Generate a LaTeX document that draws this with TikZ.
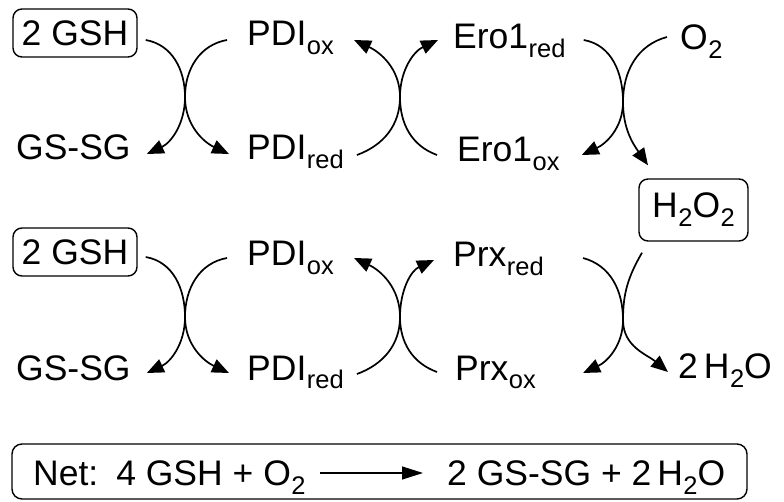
\documentclass[tikz,border=0pt]{standalone}
\usepackage{fontspec}
\setmainfont{Liberation Sans}
\usetikzlibrary{arrows.meta}
% lowered, smaller subscript for chemical names
\newcommand\lo[1]{\kern0.5pt\raisebox{-9pt}{\fontsize{25.5}{26}\selectfont #1}}
\begin{document}
\begin{tikzpicture}[x=1pt,y=1pt,
  chem/.style={inner sep=0pt, anchor=base west, font=\fontsize{35.5}{40}\selectfont},
  chembox/.style={draw, line width=1.4pt, rounded corners=9pt, inner sep=0pt,
                  font=\fontsize{35.5}{40}\selectfont},
  rxn/.style={line width=1.7pt, -{Triangle[length=17pt,width=14pt]}}]
\useasboundingbox (0,0) rectangle (784,-502);

% ---------- upper cycle: GSH / PDI / Ero1 / O2 ----------
\node[chembox, minimum width=124pt, minimum height=48pt] (gshA) at (75,-33) {2 GSH};
\node[chem] (gssgA)  at (16,-160)  {GS-SG};
\node[chem] (pdioxA) at (247,-46)  {PDI\lo{ox}};
\node[chem] (pdiredA) at (247,-160) {PDI\lo{red}};
\node[chem] (eroRed) at (453,-49)  {Ero1\lo{red}};
\node[chem] (eroOx)  at (457,-162) {Ero1\lo{ox}};
\node[chem] (oxy)    at (680,-50)  {O\lo{2}};
\node[chembox, minimum width=109pt, minimum height=62pt] (peroxA) at (693.5,-210) {H\lo{2}O\lo{2}};

\coordinate (tA1) at (185,-97);
\coordinate (tA2) at (400,-97);
\coordinate (tA3) at (623,-102);

% 2 GSH -> GS-SG  and  PDIox -> PDIred
\draw[rxn] ([shift={(8,-7)}]gshA.east) to[out=-10,in=90] (tA1)
           to[out=-90,in=25] ([shift={(16,6)}]gssgA.base east);
\draw[rxn] ([shift={(-20,6)}]pdioxA.base west) to[out=190,in=90] (tA1)
           to[out=-90,in=155] ([shift={(-18,6)}]pdiredA.base west);
% PDIred -> PDIox  and  Ero1ox -> Ero1red
\draw[rxn] ([shift={(13,5)}]pdiredA.base east) to[out=20,in=-90] (tA2)
           to[out=90,in=-25] ([shift={(20,6)}]pdioxA.base east);
\draw[rxn] ([shift={(-20,7)}]eroOx.base west) to[out=160,in=-90] (tA2)
           to[out=90,in=205] ([shift={(-15,9)}]eroRed.base west);
% Ero1red -> Ero1ox  and  O2 -> H2O2
\draw[rxn] ([shift={(18,9)}]eroRed.base east) to[out=-10,in=90] (tA3)
           to[out=-90,in=25] ([shift={(22,7)}]eroOx.base east);
\draw[rxn] ([shift={(-13,13)}]oxy.base west) to[out=195,in=90] (tA3)
           to[out=-90,in=125] ([shift={(-45.5,13)}]peroxA.north);

% ---------- lower cycle: GSH / PDI / Prx / H2O2 ----------
\node[chembox, minimum width=124pt, minimum height=48pt] (gshB) at (75,-252) {2 GSH};
\node[chem] (gssgB)  at (16,-380)  {GS-SG};
\node[chem] (pdioxB) at (247,-266) {PDI\lo{ox}};
\node[chem] (pdiredB) at (247,-380) {PDI\lo{red}};
\node[chem] (prxRed) at (453,-267) {Prx\lo{red}};
\node[chem] (prxOx)  at (455,-380) {Prx\lo{ox}};
\node[chem] (water)  at (678,-378) {2\,H\lo{2}O};

\coordinate (tB1) at (185,-317);
\coordinate (tB2) at (400,-317);
\coordinate (tB3) at (623,-320);

\draw[rxn] ([shift={(8,-5)}]gshB.east) to[out=-10,in=90] (tB1)
           to[out=-90,in=25] ([shift={(16,7)}]gssgB.base east);
\draw[rxn] ([shift={(-20,8)}]pdioxB.base west) to[out=190,in=90] (tB1)
           to[out=-90,in=155] ([shift={(-18,7)}]pdiredB.base west);
\draw[rxn] ([shift={(13,6)}]pdiredB.base east) to[out=20,in=-90] (tB2)
           to[out=90,in=-25] ([shift={(20,8)}]pdioxB.base east);
\draw[rxn] ([shift={(-18,8)}]prxOx.base west) to[out=160,in=-90] (tB2)
           to[out=90,in=205] ([shift={(-19,7)}]prxRed.base west);
\draw[rxn] ([shift={(39,9)}]prxRed.base east) to[out=-15,in=90] (tB3)
           to[out=-90,in=25] ([shift={(47,7)}]prxOx.base east);
\draw[rxn] ([shift={(-51.5,-11)}]peroxA.south) to[out=240,in=90] (tB3)
           to[out=-90,in=140] ([shift={(-10,6)}]water.base west);

% ---------- net reaction ----------
\node[draw, line width=1.4pt, rounded corners=10pt, minimum width=735pt,
      minimum height=55pt, inner sep=0pt] (net) at (379.5,-471.5) {};
\node[chem] (lhs) at (33,-485) {Net:\hspace{18pt}4 GSH + O\lo{2}};
\node[chem] (rhs) at (447,-485) {2 GS-SG + 2\,H\lo{2}O};
\draw[line width=1.2pt, -{Triangle[length=21pt,width=13pt]}]
     ([shift={(14,12)}]lhs.base east) -- ([shift={(-24,12)}]rhs.base west);
\end{tikzpicture}
\end{document}
